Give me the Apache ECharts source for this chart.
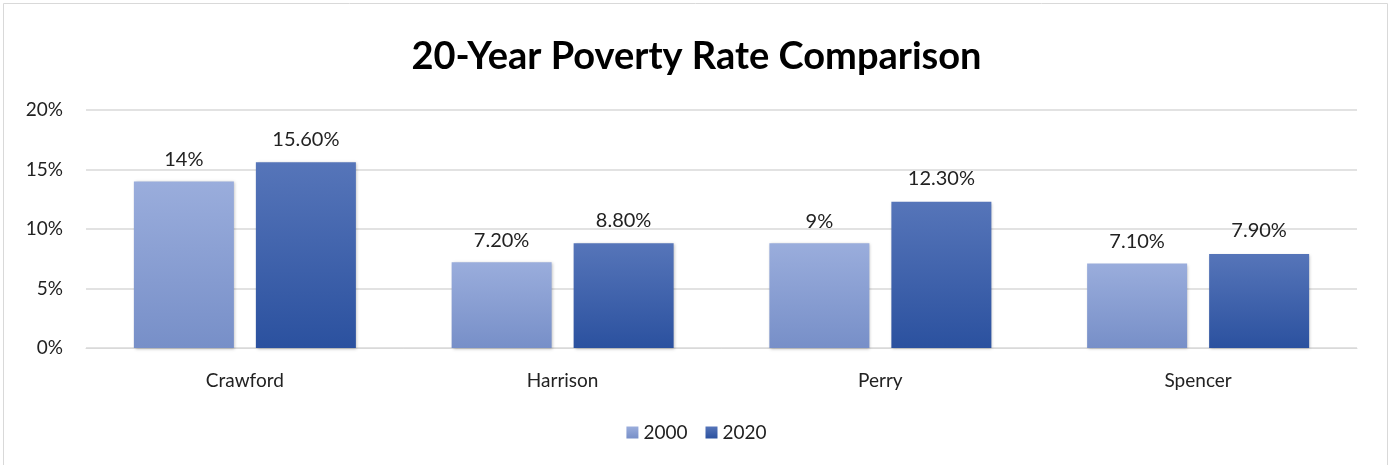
<!DOCTYPE html>
<html><head><meta charset="utf-8">
<script src="https://cdn.jsdelivr.net/npm/echarts@6/dist/echarts.min.js"></script>
<style>html,body{margin:0;padding:0;background:#fff}#c{width:1393px;height:465px}</style>
</head><body><div id="c"></div>
<script>
const categories = ['Crawford', 'Harrison', 'Perry', 'Spencer'];
const values2000 = [14, 7.2, 8.8, 7.1];
const values2020 = [15.6, 8.8, 12.3, 7.9];
const labels2000 = ['14%', '7.20%', '9%', '7.10%'];
const labels2020 = ['15.60%', '8.80%', '12.30%', '7.90%'];
const seriesNames = ['2000', '2020'];
const yTicks = [0, 5, 10, 15, 20];

const font = 'Lato, "Open Sans", sans-serif';
const chart = echarts.init(document.getElementById('c'));
function grad(top, bottom) {
  return new echarts.graphic.LinearGradient(0, 0, 0, 1, [{offset: 0, color: top}, {offset: 1, color: bottom}]);
}
chart.setOption({
  animation: false,
  graphic: [{type: 'rect', shape: {x: 3.5, y: 3.5, width: 1384, height: 470}, style: {fill: 'none', stroke: '#d9d9d9', lineWidth: 1}}],
  title: {text: '20-Year Poverty Rate Comparison', left: 'center', top: 33,
    textStyle: {fontFamily: font, fontWeight: 'bold', fontSize: 38, color: '#000'}},
  legend: {bottom: 18, itemWidth: 12, itemHeight: 12, itemGap: 18, icon: 'rect',
    textStyle: {fontFamily: font, fontSize: 19, color: '#222'}},
  grid: {left: 86, right: 36, top: 110, bottom: 117},
  xAxis: {type: 'category', data: categories,
    axisLine: {lineStyle: {color: '#d9d9d9', width: 1}}, axisTick: {show: false},
    axisLabel: {fontFamily: font, fontSize: 19, color: '#222', margin: 23}},
  yAxis: {type: 'value', min: 0, max: 20, interval: 5,
    axisLabel: {fontFamily: font, fontSize: 19, color: '#222', margin: 23, formatter: v => yTicks.includes(v) ? v + '%' : ''},
    splitLine: {lineStyle: {color: '#d9d9d9', width: 1.5}}, axisLine: {show: false}, axisTick: {show: false}},
  series: [
    {name: seriesNames[0], type: 'bar', data: values2000, barWidth: 100, barGap: '22%',
      itemStyle: {color: grad('#9aaddc', '#778fc8'), shadowColor: 'rgba(0,0,0,0.25)', shadowBlur: 3, shadowOffsetX: 1, shadowOffsetY: 1},
      label: {show: true, position: 'top', distance: 12, fontFamily: font, fontSize: 20, color: '#222',
        formatter: p => labels2000[p.dataIndex]}},
    {name: seriesNames[1], type: 'bar', data: values2020, barWidth: 100,
      itemStyle: {color: grad('#5675b9', '#2b519f'), shadowColor: 'rgba(0,0,0,0.25)', shadowBlur: 3, shadowOffsetX: 1, shadowOffsetY: 1},
      label: {show: true, position: 'top', distance: 13, fontFamily: font, fontSize: 20, color: '#222',
        formatter: p => labels2020[p.dataIndex]}}
  ]
});
</script></body></html>
